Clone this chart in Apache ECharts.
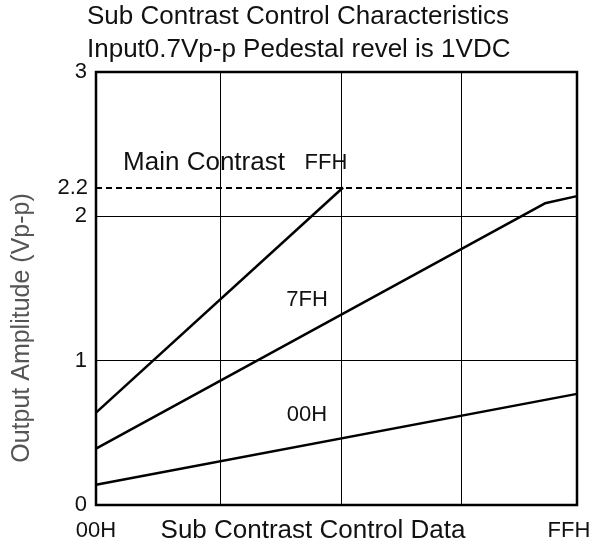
<!DOCTYPE html>
<html>
<head>
<meta charset="utf-8">
<script src="https://cdn.jsdelivr.net/npm/echarts@6/dist/echarts.min.js"></script>
<style>
  html, body { margin: 0; padding: 0; background: #fff; }
  #chart { width: 607px; height: 546px; }
</style>
</head>
<body>
<div id="chart"></div>
<script>
// Sub contrast data (00H..FFH mapped to 0..255)
const xMain = [0, 131];
const yMain = [0.64, 2.2];
const x7F = [0, 238, 255];
const y7F = [0.39, 2.09, 2.14];
const x00 = [0, 255];
const y00 = [0.14, 0.77];

const gridX = [65.7, 130, 193.5];   // vertical grid lines as drawn
const mainContrastLevel = 2.2;
const xTickLabels = { 0: '00H', 255: 'FFH' };

const font = "'Liberation Sans', Arial, sans-serif";
const pair = (xs, ys) => xs.map((x, i) => [x, ys[i]]);

const lineStyle = { color: '#000', width: 2.5 };
const centered = { fontFamily: font, fill: '#111', align: 'center', verticalAlign: 'middle' };

const option = {
  animation: false,
  title: [
    {
      text: 'Sub Contrast Control Characteristics',
      left: 87, top: 4, padding: 0,
      textStyle: { fontFamily: font, fontSize: 26, fontWeight: 'normal', color: '#111' },
    },
    {
      text: 'Input0.7Vp-p Pedestal revel is 1VDC',
      left: 87, top: 37, padding: 0,
      textStyle: { fontFamily: font, fontSize: 26, fontWeight: 'normal', color: '#111' },
    },
  ],
  grid: {
    left: 96, right: 30, top: 72, bottom: 41,
    containLabel: false, outerBoundsMode: 'none',
    show: true, borderColor: '#000', borderWidth: 2.5, backgroundColor: 'transparent',
  },
  xAxis: {
    type: 'value',
    min: 0, max: 255, interval: 255,
    axisLine: { show: false },
    axisTick: { show: false },
    splitLine: { show: false },
    axisLabel: {
      margin: 15,
      fontFamily: font, fontSize: 22, color: '#111',
      formatter: (v) => {
        const t = xTickLabels[v] || '';
        return v === 255 ? '{r|' + t + '}' : t;
      },
      rich: { r: { fontFamily: font, fontSize: 22, color: '#111', padding: [0, 16, 0, 0] } },
    },
  },
  yAxis: {
    type: 'value',
    min: 0, max: 3, interval: 1,
    axisLine: { show: false },
    axisTick: { show: false },
    splitLine: { show: true, lineStyle: { color: '#000', width: 1 } },
    axisLabel: { margin: 9, fontFamily: font, fontSize: 22, color: '#111' },
  },
  graphic: [
    {
      type: 'text', x: 313, y: 531,
      style: { ...centered, text: 'Sub Contrast Control Data', fontSize: 26 },
    },
    {
      type: 'text', x: 22, y: 328, rotation: Math.PI / 2,
      style: { ...centered, text: 'Output Amplitude (Vp-p)', fontSize: 25, fill: '#555' },
    },
    {
      type: 'text', x: 204, y: 163,
      style: { ...centered, text: 'Main Contrast', fontSize: 26 },
    },
    {
      type: 'text', x: 326, y: 163,
      style: { ...centered, text: 'FFH', fontSize: 22 },
    },
    {
      type: 'text', x: 307, y: 300,
      style: { ...centered, text: '7FH', fontSize: 22 },
    },
    {
      type: 'text', x: 307, y: 415,
      style: { ...centered, text: '00H', fontSize: 22 },
    },
  ],
  series: [
    {
      name: 'FFH', type: 'line', data: pair(xMain, yMain),
      symbol: 'none', lineStyle, z: 5,
      markLine: {
        silent: true, symbol: ['none', 'none'],
        label: { show: false },
        lineStyle: { color: '#000', width: 1, type: 'solid' },
        data: gridX.map((x) => ({ xAxis: x })),
      },
    },
    {
      name: '7FH', type: 'line', data: pair(x7F, y7F),
      symbol: 'none', lineStyle, z: 5,
      markLine: {
        silent: true, symbol: ['none', 'none'],
        lineStyle: { color: '#000', width: 1.8, type: [6, 4] },
        label: {
          show: true, position: 'start', distance: 8,
          formatter: String(mainContrastLevel),
          fontFamily: font, fontSize: 22, color: '#111',
        },
        data: [{ yAxis: mainContrastLevel }],
      },
    },
    {
      name: '00H', type: 'line', data: pair(x00, y00),
      symbol: 'none', lineStyle, z: 5,
    },
  ],
};

const chart = echarts.init(document.getElementById('chart'), null, { renderer: 'canvas' });
chart.setOption(option);
</script>
</body>
</html>
